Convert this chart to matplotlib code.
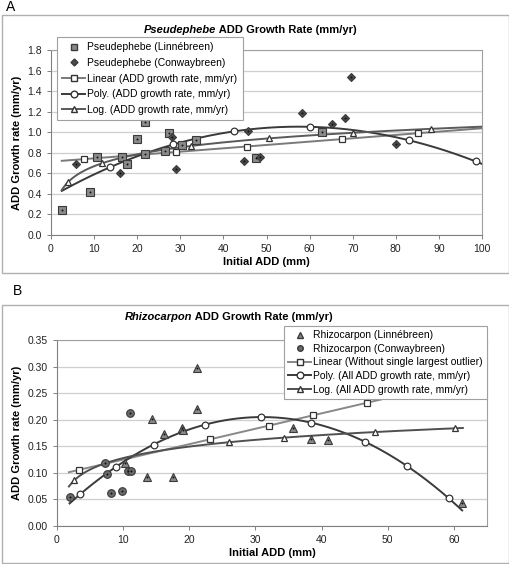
import numpy as np
import matplotlib
matplotlib.use('Agg')
import matplotlib.pyplot as plt
from matplotlib.lines import Line2D
from matplotlib.patches import Rectangle

plt.rcParams['font.family'] = ['Liberation Sans', 'DejaVu Sans']

# ---- Panel A: Pseudephebe ----
linne_a_x = [2.6, 9.0, 10.6, 16.4, 17.6, 19.9, 21.9, 21.7, 26.4, 27.4, 30.5, 33.6, 47.6, 62.9]
linne_a_y = [0.246, 0.414, 0.757, 0.757, 0.693, 0.932, 1.097, 0.792, 0.82, 0.99, 0.871, 0.923, 0.745, 1.0]
conway_a_x = [5.7, 16.1, 28.1, 29.1, 44.7, 45.6, 48.5, 58.2, 65.2, 68.2, 69.7, 80.1]
conway_a_y = [0.693, 0.602, 0.958, 0.647, 0.722, 1.013, 0.761, 1.185, 1.078, 1.136, 1.541, 0.89]

lin_a = (0.7135, 0.00325)          # intercept, slope
log_a = (0.285, 0.167)             # a + b ln(x)
poly_a_x = [2.5, 13.7, 28.4, 42.4, 60.1, 83.0, 98.5, 100.0]   # points
poly_a_y = [0.43, 0.657, 0.884, 1.007, 1.052, 0.923, 0.715, 0.693]
lin_a_marks = [7.65, 28.9, 45.4, 67.6, 85.2]
poly_a_marks = [13.7, 28.4, 42.4, 60.1, 83.0, 98.5]
log_a_marks = [3.9, 11.9, 32.5, 50.5, 70.1, 88.1]

# ---- Panel B: Rhizocarpon ----
linne_b_x = [21.1, 21.1, 14.4, 16.2, 18.9, 19.0, 10.3, 13.6, 17.6, 35.7, 38.4, 41.0, 61.25]
linne_b_y = [0.297, 0.220, 0.201, 0.174, 0.184, 0.181, 0.118, 0.093, 0.093, 0.184, 0.164, 0.161, 0.044]
conway_b_x = [1.9, 7.2, 7.5, 8.2, 9.9, 11.0, 10.7, 11.25]
conway_b_y = [0.055, 0.119, 0.097, 0.063, 0.065, 0.213, 0.104, 0.104]

lin_b = (0.096, 0.0029)
log_b = (0.056, 0.0312)
poly_b = (-0.000192, 0.011904, 0.020488)   # x^2, x, 1
lin_b_marks = [3.4, 23.1, 32.1, 38.7, 46.8]
poly_b_marks = [3.5, 8.9, 14.6, 22.35, 30.8, 38.4, 46.5, 52.9, 59.2]
log_b_marks = [2.6, 26.0, 34.3, 48.0, 60.1]

W, H = 510, 564
fig = plt.figure(figsize=(W / 100, H / 100), dpi=100)

def fx(px):
    return px / W

def fy(py):
    return 1 - py / H

# panel frames
for top, bot in [(15, 273), (305, 563)]:
    fig.patches.append(Rectangle((fx(2), fy(bot)), fx(507), (bot - top) / H,
                                 transform=fig.transFigure, fill=False,
                                 ec='#b0b0b0', lw=1))
fig.text(fx(6), fy(7), 'A', fontsize=10, va='center')
fig.text(fx(13), fy(291), 'B', fontsize=10, va='center')


def style_axes(ax):
    ax.grid(axis='y', color='#cfcfcf', lw=0.9)
    ax.set_axisbelow(True)
    for s in ax.spines.values():
        s.set_color('#a0a0a0')
    ax.spines['left'].set_color('#808080')
    ax.spines['bottom'].set_color('#808080')
    ax.tick_params(labelsize=7.5, colors='#222222', length=3, width=0.7,
                   direction='out')
    ax.tick_params(color='#808080')


def title(ax, italic, rest, xc, yc):
    t1 = fig.text(0, 0, italic, fontsize=8, fontweight='bold', style='italic')
    t2 = fig.text(0, 0, rest, fontsize=8, fontweight='bold')
    fig.canvas.draw()
    r = fig.canvas.get_renderer()
    w1 = t1.get_window_extent(r).width / W
    w2 = t2.get_window_extent(r).width / W
    x0 = fx(xc) - (w1 + w2) / 2
    t1.set_position((x0, fy(yc)))
    t1.set_va('center')
    t2.set_position((x0 + w1, fy(yc)))
    t2.set_va('center')


def scatter_pt(ax, x, y, marker, ms, fc):
    ax.plot(x, y, ls='none', marker=marker, ms=ms, mfc=fc, mec='#3a3a3a',
            mew=0.8, zorder=4)
    ax.plot(x, y, ls='none', marker='o', ms=1.4, mfc='#111111', mec='none',
            zorder=5)


def trend(ax, x, y, mx, my, marker, color, ms):
    ax.plot(x, y, color=color, lw=1.4, zorder=3)
    ax.plot(mx, my, ls='none', marker=marker, ms=ms, mfc='white',
            mec='#333333', mew=0.9, zorder=6)


# ---------- Panel A ----------
axA = fig.add_axes([fx(51), fy(235), fx(431), (235 - 50) / H])
style_axes(axA)
scatter_pt(axA, linne_a_x, linne_a_y, 's', 5.2, '#8a8a8a')
scatter_pt(axA, conway_a_x, conway_a_y, 'D', 4, '#4a4a4a')

xa = np.linspace(2.5, 100, 300)
pa = np.polyfit(poly_a_x, poly_a_y, 3)
trend(axA, xa, lin_a[0] + lin_a[1] * xa, lin_a_marks,
      lin_a[0] + lin_a[1] * np.array(lin_a_marks), 's', '#7a7a7a', 4)
trend(axA, xa, np.polyval(pa, xa), poly_a_marks,
      np.polyval(pa, poly_a_marks), 'o', '#3a3a3a', 4.8)
trend(axA, xa, log_a[0] + log_a[1] * np.log(xa), log_a_marks,
      log_a[0] + log_a[1] * np.log(log_a_marks), '^', '#5a5a5a', 5)

axA.set_xlim(0, 100)
axA.set_ylim(0, 1.8)
axA.set_xticks(np.arange(0, 101, 10))
axA.set_yticks(np.arange(0, 1.81, 0.2))
axA.yaxis.set_major_formatter(plt.FormatStrFormatter('%.1f'))
axA.set_xlabel('Initial ADD (mm)', fontsize=8, fontweight='bold', labelpad=2)
axA.set_ylabel('ADD Growth rate (mm/yr)', fontsize=8, fontweight='bold',
               labelpad=4)
title(axA, 'Pseudephebe', ' ADD Growth Rate (mm/yr)', 250, 30)

handles_a = [
    Line2D([], [], ls='none', marker='s', ms=4, mfc='#8a8a8a', mec='#3a3a3a'),
    Line2D([], [], ls='none', marker='D', ms=3.5, mfc='#4a4a4a', mec='#3a3a3a'),
    Line2D([], [], color='#7a7a7a', lw=1.4, marker='s', ms=4, mfc='white', mec='#333333'),
    Line2D([], [], color='#3a3a3a', lw=1.4, marker='o', ms=4.8, mfc='white', mec='#333333'),
    Line2D([], [], color='#5a5a5a', lw=1.4, marker='^', ms=5, mfc='white', mec='#333333'),
]
labels_a = ['Pseudephebe (Linnébreen)', 'Pseudephebe (Conwaybreen)',
            'Linear (ADD growth rate, mm/yr)', 'Poly. (ADD growth rate, mm/yr)',
            'Log. (ADD growth rate, mm/yr)']
legA = axA.legend(handles_a, labels_a, loc='upper left',
                  bbox_to_anchor=(fx(57), fy(37)), bbox_transform=fig.transFigure,
                  fontsize=7.5, frameon=True, fancybox=False, framealpha=1,
                  edgecolor='#a0a0a0', handlelength=2.2, handletextpad=0.2,
                  borderpad=0.5, labelspacing=0.55, borderaxespad=0)
legA.get_frame().set_linewidth(0.8)
legA.set_zorder(10)

# ---------- Panel B ----------
axB = fig.add_axes([fx(57), fy(526), fx(430), (526 - 340) / H])
style_axes(axB)
scatter_pt(axB, linne_b_x, linne_b_y, '^', 5.5, '#8a8a8a')
scatter_pt(axB, conway_b_x, conway_b_y, 'o', 5.5, '#6a6a6a')

xl = np.linspace(1.8, 49, 100)
xg = np.linspace(1.8, 61.35, 300)
xp = np.linspace(1.9, 61.25, 300)
trend(axB, xl, lin_b[0] + lin_b[1] * xl, lin_b_marks,
      lin_b[0] + lin_b[1] * np.array(lin_b_marks), 's', '#888888', 4)
trend(axB, xp, np.polyval(poly_b, xp), poly_b_marks,
      np.polyval(poly_b, poly_b_marks), 'o', '#3a3a3a', 4.8)
trend(axB, xg, log_b[0] + log_b[1] * np.log(xg), log_b_marks,
      log_b[0] + log_b[1] * np.log(log_b_marks), '^', '#505050', 5)

axB.set_xlim(0, 65)
axB.set_ylim(0, 0.35)
axB.set_xticks(np.arange(0, 61, 10))
axB.set_yticks(np.arange(0, 0.351, 0.05))
axB.yaxis.set_major_formatter(plt.FormatStrFormatter('%.2f'))
axB.set_xlabel('Initial ADD (mm)', fontsize=8, fontweight='bold', labelpad=2)
axB.set_ylabel('ADD Growth rate (mm/yr)', fontsize=8, fontweight='bold',
               labelpad=4)
title(axB, 'Rhizocarpon', ' ADD Growth Rate (mm/yr)', 229, 317)

handles_b = [
    Line2D([], [], ls='none', marker='^', ms=4, mfc='#8a8a8a', mec='#3a3a3a'),
    Line2D([], [], ls='none', marker='o', ms=4, mfc='#6a6a6a', mec='#3a3a3a'),
    Line2D([], [], color='#888888', lw=1.4, marker='s', ms=4, mfc='white', mec='#333333'),
    Line2D([], [], color='#3a3a3a', lw=1.4, marker='o', ms=4.8, mfc='white', mec='#333333'),
    Line2D([], [], color='#505050', lw=1.4, marker='^', ms=5, mfc='white', mec='#333333'),
]
labels_b = ['Rhizocarpon (Linnébreen)', 'Rhizocarpon (Conwaybreen)',
            'Linear (Without single largest outlier)',
            'Poly. (All ADD growth rate, mm/yr)',
            'Log. (All ADD growth rate, mm/yr)']
legB = axB.legend(handles_b, labels_b, loc='upper left',
                  bbox_to_anchor=(fx(284), fy(326)), bbox_transform=fig.transFigure,
                  fontsize=7.5, frameon=True, fancybox=False, framealpha=1,
                  edgecolor='#a0a0a0', handlelength=2.2, handletextpad=0.2,
                  borderpad=0.4, labelspacing=0.35, borderaxespad=0)
legB.get_frame().set_linewidth(0.8)
legB.set_zorder(10)

fig.savefig('out.png', dpi=100)
